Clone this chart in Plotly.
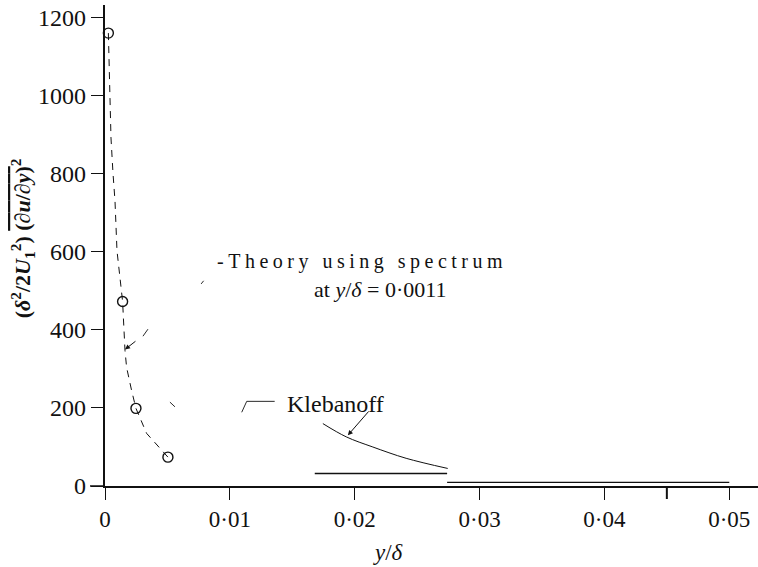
import plotly.graph_objects as go

# Measured points (open circles)
meas_x = [0.00027, 0.00141, 0.00248, 0.00504]
meas_y = [1161, 473, 199, 74]

# Theory using the spectrum at y/delta = 0.0011 (dashed curve)
theory_x = [0.00027, 0.0004, 0.00048, 0.00064, 0.0008, 0.00096, 0.00141,
            0.0016, 0.00173, 0.00213, 0.00248, 0.00333, 0.0044, 0.00504]
theory_y = [1161, 1000, 892, 802, 731, 603, 473,
            348, 304, 245, 199, 135, 97, 74]

# Klebanoff curve (solid)
kleb_x = [0.01745, 0.01932, 0.02145, 0.02412, 0.02745]
kleb_y = [160, 126, 100, 71, 45]

# Horizontal levels further out
level_x = [0.0168, 0.0274, None, 0.0274, 0.0500]
level_y = [32, 32, None, 9.5, 9.5]

# Axis ticks
x_ticks = [0, 0.01, 0.02, 0.03, 0.04, 0.05]
x_ticktext = ["0", "0·01", "0·02", "0·03", "0·04", "0·05"]
y_ticks = [0, 200, 400, 600, 800, 1000, 1200]
y_ticktext = ["0", "200", "400", "600", "800", "1000", "1200"]

SERIF = "Liberation Serif"
INK = "#111111"

fig = go.Figure()

fig.add_trace(go.Scatter(
    x=theory_x, y=theory_y, mode="lines",
    line=dict(color=INK, width=1, dash="7px,6px"),
    showlegend=False, hoverinfo="skip"))

fig.add_trace(go.Scatter(
    x=kleb_x, y=kleb_y, mode="lines", line_shape="spline",
    line=dict(color=INK, width=1),
    showlegend=False, hoverinfo="skip"))

fig.add_trace(go.Scatter(
    x=level_x, y=level_y, mode="lines",
    line=dict(color=INK, width=1.3),
    showlegend=False, hoverinfo="skip"))

fig.add_trace(go.Scatter(
    x=meas_x, y=meas_y, mode="markers",
    marker=dict(symbol="circle-open", size=10, color=INK,
                line=dict(width=1.4, color=INK)),
    showlegend=False, hoverinfo="skip", cliponaxis=False))

# Leader fragments for the two labels
fig.add_trace(go.Scatter(
    x=[0.01359, 0.01135, 0.01095, None, 0.0052, 0.0056,
       None, 0.00304, 0.00344, None, 0.0077, 0.0079],
    y=[217, 217, 189, None, 215, 203,
       None, 384, 402, None, 518, 526],
    mode="lines", line=dict(color=INK, width=0.9),
    showlegend=False, hoverinfo="skip"))

annotations = [
    dict(x=0.0088, y=575, xref="x", yref="y", xanchor="left", yanchor="middle",
         text='<span style="letter-spacing:4.5px">-Theory using spectrum</span>',
         showarrow=False, font=dict(family=SERIF, size=20, color=INK)),
    dict(x=0.0166, y=505, xref="x", yref="y", xanchor="left", yanchor="middle",
         text="at <i>y</i>/<i>δ</i> = 0·0011",
         showarrow=False, font=dict(family=SERIF, size=22, color=INK)),
    dict(x=0.01442, y=210, xref="x", yref="y", xanchor="left", yanchor="middle",
         text="Klebanoff", showarrow=False,
         font=dict(family=SERIF, size=24, color=INK)),
    # arrow from the Klebanoff label to its curve
    dict(x=0.01945, y=130, ax=0.02122, ay=195, xref="x", yref="y",
         axref="x", ayref="y", text="", showarrow=True,
         arrowhead=2, arrowsize=1, arrowwidth=1, arrowcolor=INK, standoff=0),
    # arrow pointing at the theory curve
    dict(x=0.0016, y=350, ax=0.00256, ay=374, xref="x", yref="y",
         axref="x", ayref="y", text="", showarrow=True,
         arrowhead=2, arrowsize=1, arrowwidth=1, arrowcolor=INK, standoff=0),
    # rotated y-axis title
    dict(x=-0.127, y=0.515, xref="paper", yref="paper",
         xanchor="center", yanchor="middle", textangle=-90,
         text='<b>(<i>δ</i><sup>2</sup>/2<i>U</i><sub>1</sub><sup>2</sup>) '
              '<span style="text-decoration:overline">(∂<i>u</i>/∂<i>y</i>)</span>'
              '<sup>2</sup></b>',
         showarrow=False, font=dict(family=SERIF, size=22, color=INK)),
    # x-axis title
    dict(x=0.0227, y=-0.139, xref="x", yref="paper",
         xanchor="center", yanchor="middle",
         text="<i>y</i>/<i>δ</i>", showarrow=False,
         font=dict(family=SERIF, size=23, color=INK)),
]

shapes = [
    # x-axis line continues a little left of the origin
    dict(type="line", xref="paper", yref="paper", x0=-15 / 653, x1=0, y0=0, y1=0,
         line=dict(color=INK, width=1.5)),
    # extra tick between 0.04 and 0.05
    dict(type="line", xref="x", yref="paper", x0=0.045, x1=0.045,
         y0=0, y1=-13 / 481, line=dict(color=INK, width=2)),
]

fig.update_layout(
    width=758, height=567,
    margin=dict(l=105, r=0, t=5, b=81),
    paper_bgcolor="white", plot_bgcolor="white",
    font=dict(family=SERIF, color=INK),
    annotations=annotations, shapes=shapes,
    xaxis=dict(range=[0, 0.0523], showgrid=False, zeroline=False,
               showline=True, linecolor=INK, linewidth=1.5,
               ticks="outside", ticklen=12, tickwidth=1, tickcolor=INK,
               tickvals=x_ticks, ticktext=x_ticktext,
               tickfont=dict(family=SERIF, size=23, color=INK),
               ticklabelstandoff=0),
    yaxis=dict(range=[0, 1233], showgrid=False, zeroline=False,
               showline=True, linecolor=INK, linewidth=2.2,
               ticks="outside", ticklen=12, tickwidth=1, tickcolor=INK,
               tickvals=y_ticks, ticktext=y_ticktext,
               tickfont=dict(family=SERIF, size=24, color=INK),
               ticklabelstandoff=0),
)

fig.write_html("out.html")
